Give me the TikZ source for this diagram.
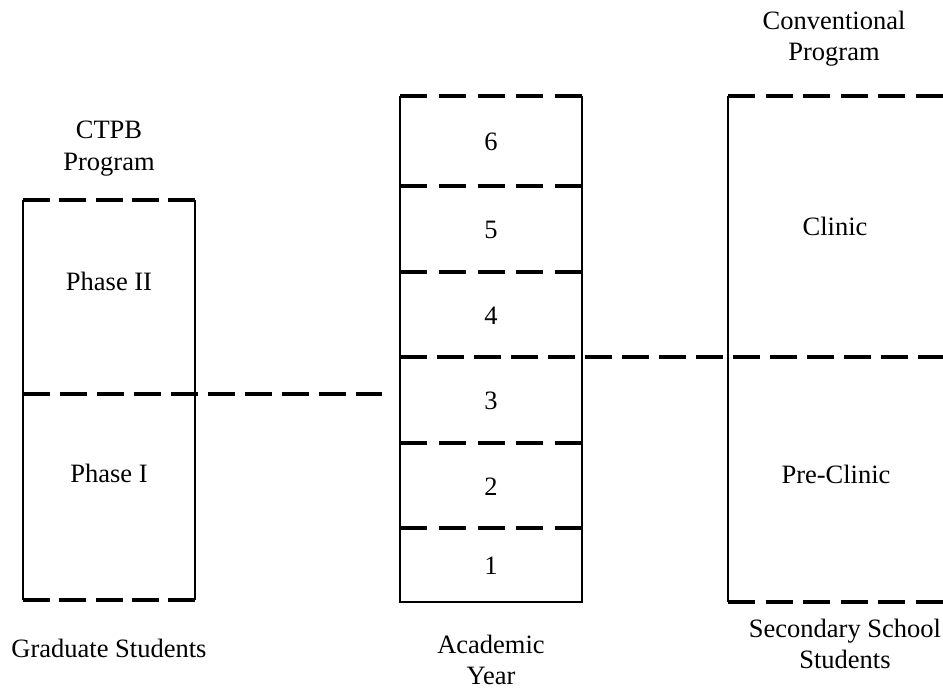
\documentclass[tikz,border=0pt]{standalone}
\usepackage{fontspec}
\setmainfont{Liberation Serif}
\tikzset{
  divider/.style={line width=3.2pt,dash pattern=on 27pt off #1},
  divider/.default=10pt,
  boxside/.style={line width=2pt},
  chartlabel/.style={font=\fontsize{26.5}{31.5}\selectfont,inner sep=0pt,align=center}
}
\begin{document}
\begin{tikzpicture}[x=1pt,y=-1pt]
  \useasboundingbox (0,0) rectangle (943,690);
  \coordinate (ctpbnw) at (23,200);
  \coordinate (ctpbne) at (195,200);
  \coordinate (ctpbsw) at (23,600);
  \coordinate (ctpbse) at (195,600);
  \coordinate (ctpbmid) at (23,394);
  \coordinate (ctpbend) at (382,394);
  \coordinate (yearnw) at (400,96);
  \coordinate (yearne) at (582,96);
  \coordinate (yearsw) at (400,602);
  \coordinate (yearse) at (582,602);
  \coordinate (yearmid) at (400,357);
  \coordinate (convnw) at (728,96);
  \coordinate (convsw) at (728,602);
  \coordinate (convne) at (943,96);
  \coordinate (convse) at (943,602);
  \coordinate (convend) at (943,357);

  \draw[boxside] (ctpbnw) -- (ctpbsw) (ctpbne) -- (ctpbse);
  \draw[divider=9.25pt] (ctpbnw) -- (ctpbne) (ctpbsw) -- (ctpbse);
  \draw[divider] (ctpbmid) -- (ctpbend);

  \draw[boxside] (yearnw) -- (yearsw) -- (yearse) -- (yearne);
  \foreach \y in {96,186,272,443,528}
    \draw[divider=11.75pt] (yearnw |- 0,\y) -- (yearne |- 0,\y);
  \draw[divider] (yearmid) -- (convend);

  \draw[boxside] (convnw) -- (convsw);
  \draw[divider=10.5pt] (convnw) -- (convne) (convsw) -- (convse);

  \foreach \yr/\ytop/\ybot in {6/96/186,5/186/272,4/272/357,3/357/443,2/443/528,1/528/602}
    \node[chartlabel,anchor=base] (year\yr) at (491,{(\ytop+\ybot)/2+9.5}) {\yr};

  \node[chartlabel] (ctpb) at (109,148.6) {CTPB\\Program};
  \node[chartlabel,anchor=base] (phaseii) at (109,290) {Phase II};
  \node[chartlabel,anchor=base] (phasei) at (109,482) {Phase I};
  \node[chartlabel,anchor=base] (graduate) at (109,657) {Graduate Students};
  \node[chartlabel] (academic) at (491,660) {Academic\\Year};
  \node[chartlabel] (conventional) at (834,38.5) {Conventional\\Program};
  \node[chartlabel,anchor=base] (clinic) at (835,235) {Clinic};
  \node[chartlabel,anchor=base] (preclinic) at (836,483) {Pre-Clinic};
  \node[chartlabel] (secondary) at (845,644) {Secondary School\\Students};
\end{tikzpicture}
\end{document}
